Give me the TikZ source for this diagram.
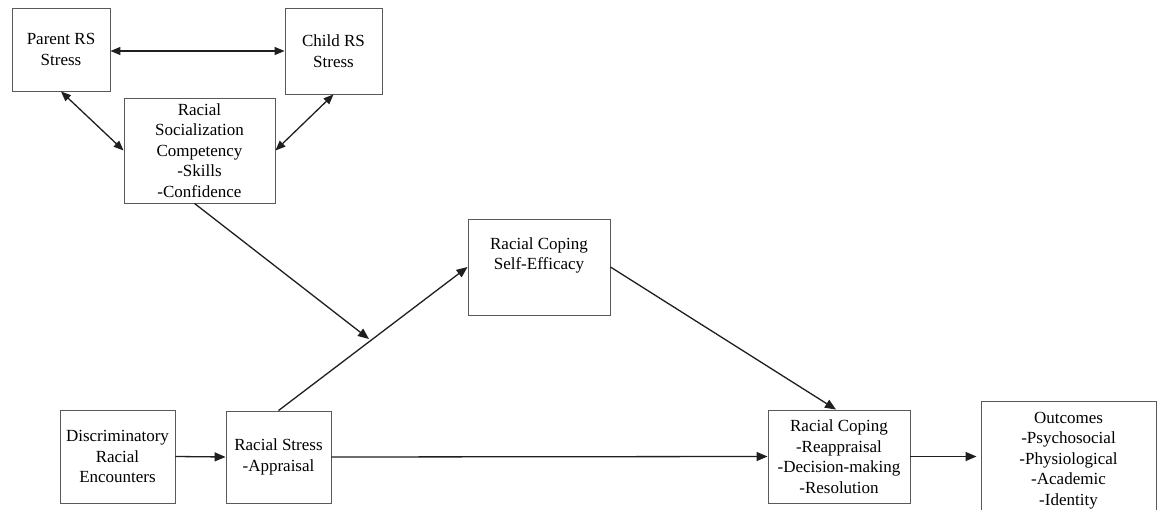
\documentclass[tikz,border=0pt]{standalone}
\usepackage{fontspec}
\setmainfont{Liberation Serif}
\usetikzlibrary{arrows.meta}
\begin{document}
\begin{tikzpicture}[x=1pt,y=-1pt,
  box/.style={draw=black!65,line width=0.9pt,rectangle,align=center,inner sep=0pt,
    font=\fontsize{17}{20.5}\selectfont},
  conn/.style={draw=black!88,line width=1.3pt,-{Triangle[length=11pt,width=9pt]}},
  bconn/.style={draw=black!88,line width=1.3pt,{Triangle[length=10pt,width=8pt]}-{Triangle[length=10pt,width=8pt]}}]
\useasboundingbox (0,0) rectangle (1157,510);
\fill[white] (0,0) rectangle (1157,510);
\node[box,minimum width=98pt,minimum height=83pt] (parent) at (61,49.5) {Parent RS\\Stress};
\node[box,minimum width=97pt,minimum height=86pt] (child) at (333.5,51) {Child RS\\Stress};
\node[box,minimum width=151pt,minimum height=105pt] (rsc) at (199.5,150.5) {Racial\\Socialization\\Competency\\-Skills\\-Confidence};
\node[box,minimum width=142pt,minimum height=96pt] (rcse) at (539,267) {Racial Coping\\Self-Efficacy\\[6pt]};
\node[box,minimum width=115pt,minimum height=93pt] (dre) at (117.5,456.5) {Discriminatory\\Racial\\Encounters};
\node[box,minimum width=105pt,minimum height=92pt] (rsa) at (278.5,457) {Racial Stress\\-Appraisal};
\node[box,minimum width=142pt,minimum height=93pt] (rc) at (839,456.5) {Racial Coping\\-Reappraisal\\-Decision-making\\-Resolution};
\node[box,minimum width=175pt,minimum height=119pt] (out) at (1068.5,460.5) {Outcomes\\-Psychosocial\\-Physiological\\-Academic\\-Identity};
\coordinate (mod) at (369,339);
\draw[bconn] (parent.east |- child.west) -- (child.west);
\draw[bconn] (parent.south) -- (rsc.west);
\draw[bconn] (child.south) -- (rsc.east);
\draw[conn] ([xshift=-5pt]rsc.south) -- (mod);
\draw[conn] (rsa.north) -- (rcse.west);
\draw[conn] (dre.east) -- (rsa.west);
\draw[conn] (rsa.east) -- (rc.west);
\draw[conn] (rcse.east) -- ([xshift=-3pt]rc.north);
\draw[conn,shorten >=4pt] (rc.east) -- (out.west |- rc.east);
\end{tikzpicture}
\end{document}
